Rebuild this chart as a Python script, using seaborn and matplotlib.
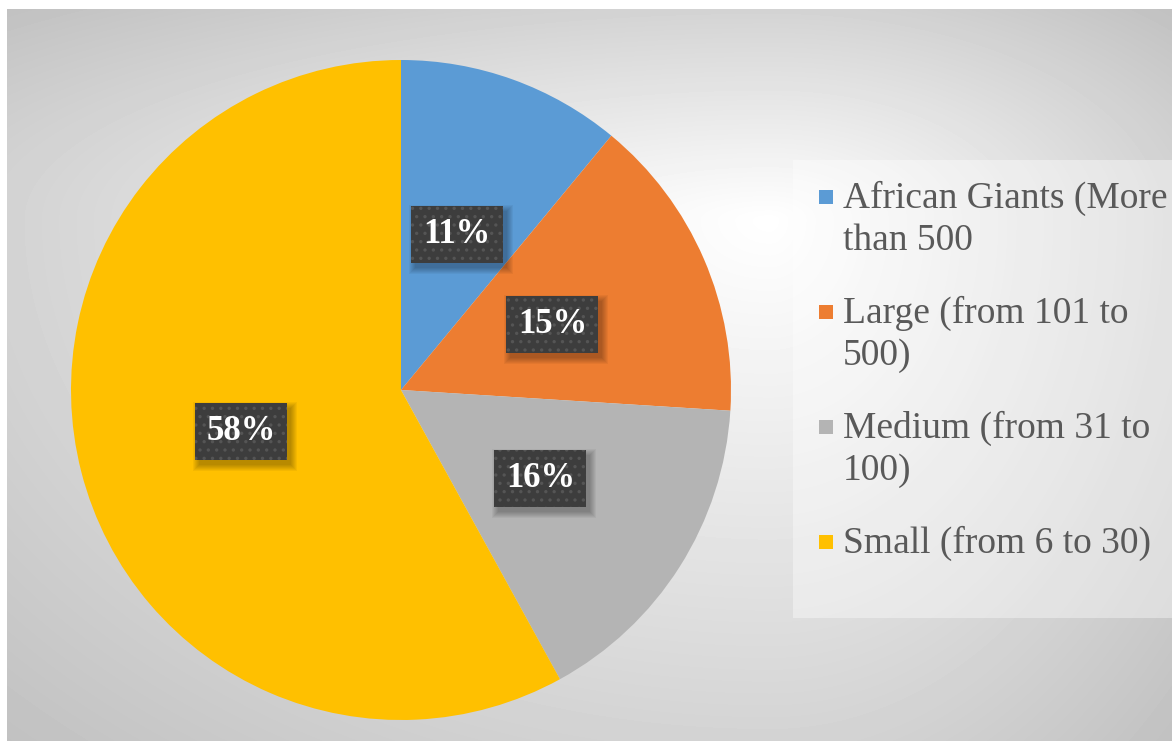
import numpy as np
import matplotlib
matplotlib.use("Agg")
import matplotlib.pyplot as plt
from matplotlib.patches import Rectangle
from matplotlib.lines import Line2D
from matplotlib.offsetbox import HPacker
import seaborn as sns

# Company size classes and their share of firms (%)
categories = [
    "African Giants (More\nthan 500",
    "Large (from 101 to\n500)",
    "Medium (from 31 to\n100)",
    "Small (from 6 to 30)",
]
shares = [11, 15, 16, 58]
slice_colors = ["#5B9BD5", "#ED7D31", "#B4B4B4", "#FFC000"]

sns.set_theme(style="white")
plt.rcParams["font.family"] = ["Liberation Serif", "DejaVu Serif"]
plt.rcParams["hatch.linewidth"] = 1.2

W, H = 1172, 742
fig = plt.figure(figsize=(W / 100, H / 100), dpi=100)
fig.patch.set_facecolor("white")

# Soft grey backdrop, brightest just right of the pie
bg = fig.add_axes([7 / W, 1 / H, (W - 7) / W, (H - 10) / H])
bg.set_axis_off()
x0, x1, y0, y1 = 7, W, 9, 741
cx, cy = 770, 220
X, Y = np.meshgrid(np.arange(x0, x1) + 0.5, np.arange(y0, y1) + 0.5)
u = np.where(X < cx, (X - cx) / (cx - x0), (X - cx) / (x1 - cx))
v = np.where(Y < cy, (Y - cy) / (cy - y0), (Y - cy) / (y1 - cy))
t = np.sqrt(u ** 2 + v ** 2) / np.sqrt(2)
shade = (255 - 62 * t) / 255
bg.imshow(shade, cmap="gray", vmin=0, vmax=1, aspect="auto", interpolation="bilinear")

# lighter panel behind the legend
bg.add_patch(Rectangle((793 / W, (H - 618) / H), (W - 793) / W, (618 - 160) / H,
                       transform=fig.transFigure, facecolor="white", alpha=0.38,
                       linewidth=0, zorder=5))

# Pie
R_PX = 330
ax = fig.add_axes([71 / W, 22 / H, 660 / W, 660 / H])
wedges, _, autotexts = ax.pie(
    shares,
    colors=slice_colors,
    startangle=90,
    counterclock=False,
    autopct=lambda p: f"{p:.0f}%",
    pctdistance=0.5,
    wedgeprops=dict(linewidth=0),
    textprops=dict(color="white", fontsize=25, fontweight="bold"),
)
ax.set_xlim(-1, 1)
ax.set_ylim(-1, 1)

# dark dotted label boxes with a soft drop shadow
px = 1 / R_PX
bw, bh = 92 * px, 57 * px
for at in autotexts:
    x, y = at.get_position()
    sx, sy = x + 4 * px, y - 5 * px
    for grow in range(7):
        g = grow * px
        ax.add_patch(Rectangle((sx - bw / 2 - g, sy - bh / 2 - g), bw + 2 * g, bh + 2 * g,
                               facecolor="black", alpha=0.045, linewidth=0, zorder=2))
    ax.add_patch(Rectangle((x - bw / 2, y - bh / 2), bw, bh, facecolor="#3d3d3d",
                           edgecolor="#555555", linewidth=0, hatch="..", zorder=3))
    at.set_zorder(4)

# square legend keys in the slice colours
keys = [Line2D([], [], linestyle="none", marker="s", markersize=9.6,
               markerfacecolor=w.get_facecolor(), markeredgewidth=0) for w in wedges]
leg = ax.legend(
    keys, categories,
    loc="upper left",
    bbox_to_anchor=(819 / W, 1 - 181 / H),
    bbox_transform=fig.transFigure,
    frameon=False,
    fontsize=27,
    labelcolor="#595959",
    handlelength=0.36,
    handleheight=1.25,
    handletextpad=0.28,
    labelspacing=1.02,
    borderpad=0,
    borderaxespad=0,
)
for txt in leg.get_texts():
    txt.set_linespacing(1.26)
for hp in leg.findobj(HPacker):
    hp.align = "top"

fig.savefig("out.png", dpi=100)
